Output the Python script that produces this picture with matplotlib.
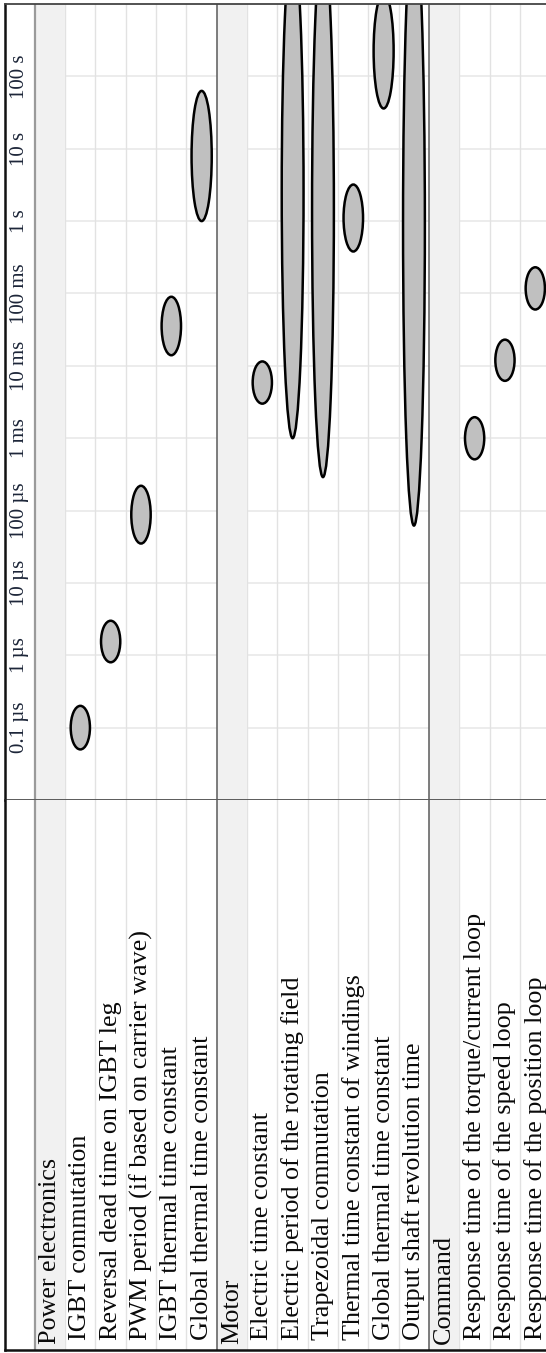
import numpy as np
import matplotlib
matplotlib.use("Agg")
import matplotlib.pyplot as plt
from matplotlib.patches import Ellipse

# ---- table content -------------------------------------------------------
row_labels = [
    "Power electronics",
    "IGBT commutation",
    "Reversal dead time on IGBT leg",
    "PWM period (if based on carrier wave)",
    "IGBT thermal time constant",
    "Global thermal time constant",
    "Motor",
    "Electric time constant",
    "Electric period of the rotating field",
    "Trapezoidal commutation",
    "Thermal time constant of windings",
    "Global thermal time constant",
    "Output shaft revolution time",
    "Command",
    "Response time of the torque/current loop",
    "Response time of the speed loop",
    "Response time of the position loop",
]
is_group = [True, False, False, False, False, False,
            True, False, False, False, False, False, False,
            True, False, False, False]

# time ranges in seconds (None for group header rows)
t_low = [None, 5.0e-8, 8.0e-7, 3.5e-5, 1.4e-2, 1.0,
         None, 3.0e-3, 1.0e-3, 2.9e-4, 0.38, 36.0, 6.2e-5,
         None, 5.1e-4, 6.2e-3, 6.0e-2]
t_high = [None, 2.0e-7, 3.0e-6, 2.2e-4, 9.0e-2, 63.0,
          None, 1.15e-2, 6.6e3, 7.0e3, 3.2, 1.4e3, 1.3e4,
          None, 1.95e-3, 2.3e-2, 2.3e-1]

# time axis: decade ticks
tick_exp = [-7, -6, -5, -4, -3, -2, -1, 0, 1, 2]
tick_labels = ["0.1 µs", "1 µs", "10 µs", "100 µs", "1 ms",
               "10 ms", "100 ms", "1 s", "10 s", "100 s"]
log_min, log_max = -8, 3

# ---- figure layout (portrait, text rotated) ------------------------------
W, H = 546, 1353
fig = plt.figure(figsize=(W / 100, H / 100), dpi=100)
fig.patch.set_facecolor("white")

col_w = 30.33          # pixel width of one table row
x0 = 4.5               # left border
y_top = 4              # top border (pixels from top)
y_sep = 800            # boundary between time scale and labels
y_bot = 1350           # bottom border

n = len(row_labels)
xmax = (W - x0) / col_w - 1

def frac_y(py):
    return (H - py) / H

ax = fig.add_axes([x0 / W, frac_y(y_sep), 1 - x0 / W, frac_y(y_top) - frac_y(y_sep)])
axl = fig.add_axes([x0 / W, frac_y(y_bot), 1 - x0 / W, frac_y(y_sep) - frac_y(y_bot)])

for a in (ax, axl):
    a.set_xlim(-1, xmax)
    a.set_xticks([])
    a.set_yticks([])
    for s in a.spines.values():
        s.set_visible(False)
    a.set_facecolor("white")

ax.set_ylim(log_min, log_max)
axl.set_ylim(0, y_bot - y_sep)

band_color = "#f1f1f1"
light_line = "#e2e2e2"
grid_color = "#ebebeb"
dark_line = "#5a5a5a"

# decade grid lines in the chart body
ax.hlines(tick_exp, 0, xmax, color=grid_color, lw=1.3, zorder=1)

group_idx = [i for i, g in enumerate(is_group) if g]
for a in (ax, axl):
    for b in range(1, n + 1):
        if b in group_idx:
            continue
        a.axvline(b, color=light_line, lw=1.0, zorder=1.5)
    for g in group_idx:
        a.axvspan(g, g + 1, color=band_color, lw=0, zorder=2)
    for g in group_idx[1:]:
        a.axvline(g, color=dark_line, lw=1.1, zorder=3)
    a.axvline(0, color="#9a9a9a", lw=1.6, zorder=3)
    a.axvline(-1, color="#111111", lw=1.8, zorder=5, clip_on=False)

# outer and separating horizontal rules
ax.axhline(log_max, color="#444444", lw=1.3, zorder=5, clip_on=False)
ax.axhline(log_min, color=dark_line, lw=1.4, zorder=5, clip_on=False)
axl.axhline(0, color="#111111", lw=1.8, zorder=5, clip_on=False)

# time-scale labels in the header column
for e, lab in zip(tick_exp, tick_labels):
    ax.text(-0.5, e, lab, rotation=90, ha="center", va="center",
            fontsize=15, family="Liberation Serif", color="#1c2538", zorder=6)

# row labels
for i, (lab, g) in enumerate(zip(row_labels, is_group)):
    axl.text(i + 0.5, 6 if g else 10, lab, rotation=90, ha="center", va="bottom",
             fontsize=18.8, family="Liberation Serif", color="#0a0a0a", zorder=6)

# duration ellipses on the logarithmic time scale
for i, (lo, hi) in enumerate(zip(t_low, t_high)):
    if lo is None:
        continue
    llo, lhi = np.log10(lo), np.log10(hi)
    span = lhi - llo
    width = min(0.72, 0.62 + 0.025 * span)
    ell = Ellipse(((i + 0.5), (llo + lhi) / 2), width, span,
                  facecolor="#c0c0c0", edgecolor="#000000", lw=1.8, zorder=4)
    ax.add_patch(ell)

fig.savefig("out.png", dpi=100, facecolor="white")
